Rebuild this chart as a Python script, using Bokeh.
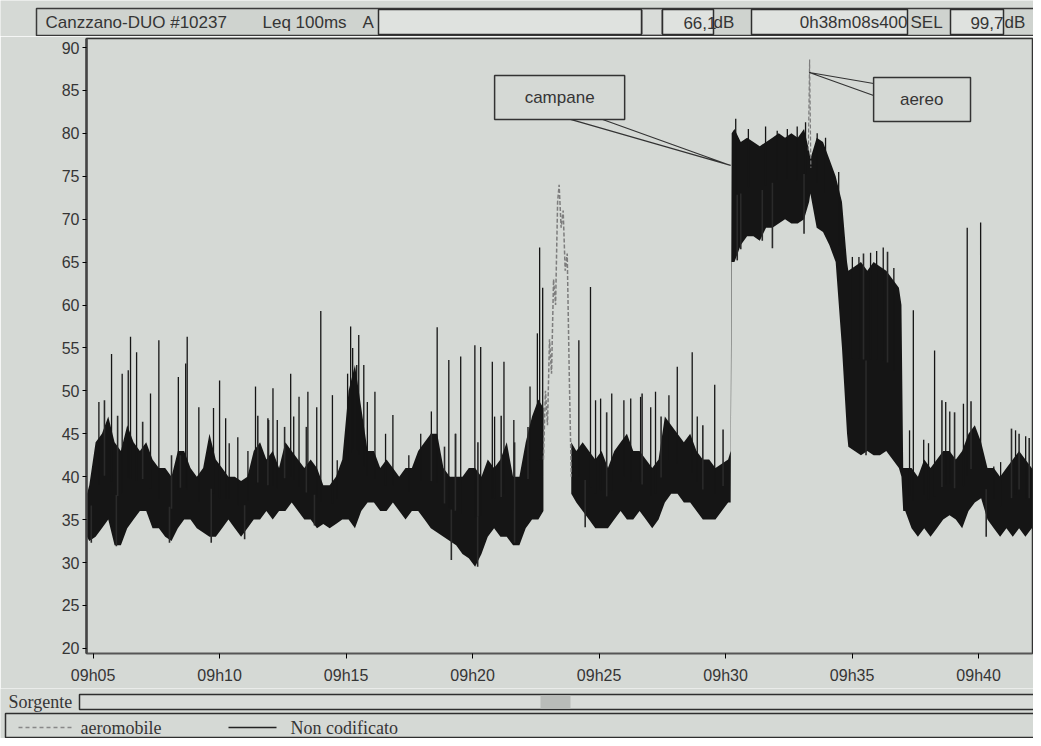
import numpy as np
from bokeh.plotting import figure
from bokeh.models import Range1d, FixedTicker
from bokeh.layouts import column
from bokeh.embed import file_html
from bokeh.resources import INLINE
from bokeh.core.properties import value

# ---------------- data (minutes after 09:00, dB) ----------------
nan = float("nan")
band_t = [4.76, 4.85, 5.1, 5.35, 5.6, 5.85, 6.1, 6.35, 6.6, 6.85, 7.1, 7.35, 7.6, 7.85, 8.1, 8.35,
          8.6, 8.85, 9.1, 9.35, 9.6, 9.85, 10.1, 10.35, 10.6, 10.85, 11.1, 11.35, 11.6, 11.85,
          12.1, 12.35, 12.6, 12.85, 13.1, 13.35, 13.6, 13.85, 14.1, 14.35, 14.6, 14.85, 15.1,
          15.35, 15.6, 15.85, 16.1, 16.35, 16.6, 16.85, 17.1, 17.35, 17.6, 17.85, 18.1, 18.35,
          18.6, 18.85, 19.1, 19.35, 19.6, 19.85, 20.1, 20.35, 20.6, 20.85, 21.1, 21.35, 21.6,
          21.85, 22.1, 22.35, 22.6, 22.8, 23.35, 23.9, 24.1, 24.35, 24.6, 24.85, 25.1, 25.35,
          25.6, 25.85, 26.1, 26.35, 26.6, 26.85, 27.1, 27.35, 27.6, 27.85, 28.1, 28.35, 28.6,
          28.85, 29.1, 29.35, 29.6, 29.85, 30.1, 30.2, 30.24, 30.35, 30.6, 30.85, 31.1, 31.35,
          31.6, 31.85, 32.1, 32.35, 32.6, 32.85, 33.1, 33.3, 33.35, 33.6, 33.85, 34.1, 34.35,
          34.6, 34.8, 34.85, 35.1, 35.35, 35.6, 35.85, 36.1, 36.35, 36.6, 36.85, 36.95, 37.02,
          37.1, 37.35, 37.6, 37.85, 38.1, 38.35, 38.6, 38.85, 39.1, 39.35, 39.6, 39.85, 40.1,
          40.35, 40.6, 40.85, 41.1, 41.35, 41.6, 41.85, 42.1, 42.35]
band_lo = [33, 32.5, 33, 34, 35, 32, 32, 34, 35, 36, 36, 34, 34, 33, 32.5, 34,
           35, 35, 34, 33.5, 33, 33, 34, 35, 34, 33, 34, 35, 35, 36,
           35, 36, 36, 37, 36, 35, 35, 34, 34.5, 34, 34.5, 35, 35,
           34, 36, 37, 37, 36, 36, 37, 36, 35, 36, 36, 35, 34,
           33.5, 33, 32.5, 32, 31, 30.5, 29.5, 31, 33, 34, 33, 33, 32,
           32, 34, 35, 35, 36, nan, 38, 37, 36, 35, 34, 34, 34,
           35, 36, 35, 35, 36, 35, 34, 35, 37, 38, 38, 37, 37,
           36, 35, 35, 35, 36, 37, 37, 65, 65, 67, 68, 68, 67.5,
           69, 69, 69.5, 70, 69.5, 69.5, 70, 72, 73, 69, 68.5, 67, 65,
           55, 45, 43.5, 43, 42.5, 43, 42.5, 42.5, 43, 42, 41, 40, 36,
           36, 34, 33, 34, 33, 34, 35, 35.5, 35, 34, 36, 37, 37.5,
           35, 34, 33, 34, 33, 34, 33, 34, 33]
band_hi = [38, 39, 44, 45, 47, 44, 43, 46, 44, 43, 44, 42, 41, 41, 40, 43,
           43, 41, 40, 41, 45, 42, 41, 40, 40, 39.5, 40, 43, 44, 42,
           43, 41, 44, 43, 42, 41, 42, 41, 39, 39, 40, 42, 50,
           53, 48, 43, 43, 41, 42, 41, 40, 41, 41, 43, 44, 45,
           45, 41, 40, 40, 40, 41, 41, 40, 42, 41, 42, 44, 40,
           40, 44, 47, 49, 48, nan, 44, 43, 44, 43, 42, 43, 41,
           43, 44, 45, 43, 43, 42, 41, 42, 47, 46, 45, 44, 45,
           43, 42, 42, 41, 41.5, 42, 43, 80, 80.5, 79, 79.5, 79, 78.5,
           79, 79.5, 80, 79.5, 80, 79.5, 80.5, 78, 77, 79.5, 79, 77, 75,
           72, 65, 64, 64.5, 65, 64, 65, 64.5, 64, 63, 62, 60, 41,
           41, 41, 40, 42, 41, 42, 43, 43, 42, 43, 45, 46, 44,
           41, 41, 40, 41, 42, 43, 42, 41, 40]

# tall isolated peaks
spike_t = [5.23, 5.73, 6.15, 6.39, 6.48, 6.72, 7.27, 7.6, 8.37, 8.66,
           8.72, 9.18, 9.76, 10.0, 10.24, 10.38, 10.72, 11.12, 11.42, 11.94,
           12.11, 12.28, 12.81, 12.93, 13.14, 13.49, 13.84, 14.0, 14.46, 14.65,
           15.06, 15.18, 15.26, 15.42, 15.5, 15.7, 15.84, 16.14, 16.56, 16.85,
           17.48, 17.95, 18.37, 18.6, 19.06, 19.33, 19.53, 20.09, 20.32, 20.78,
           20.87, 21.24, 21.63, 22.27, 22.56, 22.65, 22.77, 24.2, 24.66, 24.86,
           25.06, 25.5, 25.98, 26.25, 26.64, 27.04, 27.23, 27.76, 28.09, 28.68,
           28.88, 29.57, 30.4, 30.9, 31.58, 32.04, 32.44, 32.83, 33.16, 33.62,
           33.95, 34.47, 35.01, 35.27, 35.73, 35.97, 36.23, 36.65, 37.27, 37.42,
           37.83, 38.02, 38.26, 38.7, 38.86, 39.4, 39.55, 40.08, 40.6, 40.87,
           41.46, 41.86]
spike_db = [48.7, 54.3, 52, 52.4, 56.3, 54.5, 49.7, 55.9, 51.6, 53.2,
            56.3, 48.1, 48, 51.2, 46.8, 43.9, 44.6, 43, 50.5, 46.6,
            50.3, 46.6, 52, 47, 49.3, 49.9, 48.1, 59.3, 49.5, 41.9,
            52, 57.5, 55, 53, 56.5, 53, 48.7, 49.9, 45, 47.2,
            42.5, 45, 47.6, 57.4, 53.6, 45, 54, 55.3, 55.1, 53.4,
            47, 53.4, 46.6, 50.5, 56.7, 66.7, 62, 55.9, 62.1, 48.9,
            49.1, 49.7, 48.9, 49.1, 49.3, 48.1, 49.9, 49.5, 52.8, 54.5,
            47, 50.7, 81.7, 80.5, 80.8, 80.3, 80.5, 80.8, 81.3, 80,
            79.5, 75.5, 65.6, 65.6, 66.1, 66.3, 66.7, 64.3, 45.4, 59.4,
            44.3, 43.9, 54.7, 48.7, 47.6, 48.5, 69, 69.6, 41.2, 41.7,
            45.4, 44.7]
# smaller excursions above and below the band
fringe_t = [4.93, 5.45, 5.92, 5.97, 6.96, 8.02, 8.1, 8.45, 9.67, 10.99,
            11.51, 11.91, 12.57, 13.43, 13.75, 18.37, 18.89, 19.16, 19.32, 20.2,
            20.21, 21.13, 21.66, 21.66, 22.19, 24.45, 25.3, 26.7, 27.45, 29.1,
            29.9, 30.46, 30.6, 31.45, 31.85, 33.1, 35.45, 35.55, 36.4, 38.55,
            39.05, 39.7, 40.3, 41.3, 41.6, 42.0]
fringe_db = [32.3, 48.9, 31.9, 47.1, 46.4, 32.3, 42.5, 42.5, 32.3, 32.7,
             47.1, 46.8, 45.8, 45.8, 34.3, 45, 43.5, 30.3, 45, 29.5,
             44, 47.1, 44, 32.3, 45.8, 34.1, 47.5, 49.7, 47, 46,
             45.5, 65.2, 66.5, 67.5, 66.6, 68.3, 66, 42.5, 66.2, 48.9,
             47.5, 48.8, 33, 45.6, 45, 44.5]

aero_t = [22.80, 22.88, 22.96, 23.04, 23.12, 23.20, 23.28, 23.36, 23.42, 23.50,
          23.58, 23.66, 23.74, 23.82, 23.90]
aero_db = [42, 50, 46, 56, 52, 63, 60, 72, 74, 69, 71, 64, 66, 52, 40]
aero2_t = [33.27, 33.32, 33.37]
aero2_db = [78, 88.6, 76]

y_ticks = [20, 25, 30, 35, 40, 45, 50, 55, 60, 65, 70, 75, 80, 85, 90]
x_ticks = [5, 10, 15, 20, 25, 30, 35, 40]
x_labels = ["09h05", "09h10", "09h15", "09h20", "09h25", "09h30", "09h35", "09h40"]

# ---------------- style ----------------
BG = "#d5d9d5"
INK = "#151515"
TXT = "#353535"
SANS = "Liberation Sans"
SERIF = "Liberation Serif"
W = 1033

# ---------------- main chart ----------------
p = figure(width=W, height=652, title=None,
           x_range=Range1d(4.74, 42.13), y_range=Range1d(19.4, 91.05),
           output_backend="svg", toolbar_location=None,
           min_border_left=86, min_border_right=1, min_border_top=2, min_border_bottom=35,
           background_fill_color=BG, border_fill_color=BG)
p.frame_align = False
p.grid.visible = False
p.outline_line_color = "#333333"
p.outline_line_width = 1.5

p.yaxis.ticker = FixedTicker(ticks=y_ticks)
p.yaxis.axis_line_width = 2.5
p.yaxis.axis_line_color = "#444444"
p.yaxis.major_tick_in = 0
p.yaxis.major_tick_out = 4
p.yaxis.minor_tick_line_color = None
p.yaxis.major_label_standoff = 3
p.yaxis.major_label_text_font = SANS
p.yaxis.major_label_text_font_size = "16px"
p.yaxis.major_label_text_color = TXT

p.xaxis.ticker = FixedTicker(ticks=x_ticks)
p.xaxis.major_label_overrides = {t: l for t, l in zip(x_ticks, x_labels)}
p.xaxis.axis_line_color = "#555555"
p.xaxis.axis_line_width = 1.5
p.xaxis.major_tick_in = 0
p.xaxis.major_tick_out = 5
p.xaxis.minor_tick_line_color = None
p.xaxis.major_label_standoff = 8
p.xaxis.major_label_text_font = SANS
p.xaxis.major_label_text_font_size = "16px"
p.xaxis.major_label_text_color = TXT

bt = np.array(band_t)
lo = np.array(band_lo, dtype=float)
hi = np.array(band_hi, dtype=float)
valid = ~np.isnan(lo)
segs, cur = [], []
for i in range(len(bt)):
    if valid[i]:
        cur.append(i)
    elif cur:
        segs.append(cur)
        cur = []
if cur:
    segs.append(cur)
for s in segs:
    p.varea(x=bt[s], y1=lo[s], y2=hi[s], fill_color=INK)

mid = (lo + hi) / 2
base = np.interp(spike_t, bt[valid], mid[valid])
p.segment(x0=spike_t, y0=base, x1=spike_t, y1=spike_db, line_color=INK, line_width=1.3)
fbase = np.interp(fringe_t, bt[valid], mid[valid])
p.segment(x0=fringe_t, y0=fbase, x1=fringe_t, y1=fringe_db, line_color="#2a2a2a",
          line_width=1.6)

p.line(aero_t, aero_db, line_color="#7d7d7d", line_width=1.5, line_dash="4 2")
p.line(aero2_t, aero2_db, line_color="#7d7d7d", line_width=1.2, line_dash="4 2")

# callouts
p.patch([23.87, 30.2, 25.14], [81.62, 76.26, 81.62], fill_alpha=0,
        line_color="#333333", line_width=1.2)
p.quad(left=[20.87], right=[26.01], top=[86.74], bottom=[81.62], fill_color=BG,
       line_color="#333333", line_width=1.5)
p.text(x=[23.44], y=[84.18], text=["campane"], text_font=value(SANS), text_font_size="17px",
       text_align="center", text_baseline="middle", text_color=TXT)

p.patch([35.85, 33.31, 35.85], [85.81, 87.09, 84.41], fill_alpha=0,
        line_color="#333333", line_width=1.2)
p.quad(left=[35.85], right=[39.68], top=[86.51], bottom=[81.39], fill_color=BG,
       line_color="#333333", line_width=1.5)
p.text(x=[37.75], y=[83.95], text=["aereo"], text_font=value(SANS), text_font_size="17px",
       text_align="center", text_baseline="middle", text_color=TXT)

# ---------------- header strip ----------------
h = figure(width=W, height=36, x_range=Range1d(0, W), y_range=Range1d(36, 0),
           output_backend="svg", toolbar_location=None, min_border=0,
           x_axis_location=None, y_axis_location=None,
           background_fill_color=BG, border_fill_color=BG)
h.frame_align = False
h.grid.visible = False
h.outline_line_color = None
h.quad(left=[36], right=[1036], top=[8], bottom=[35], fill_color="#cfd3cf",
       line_color="#3a3a3a", line_width=1.5)
h.quad(left=[642], right=[661], top=[9], bottom=[34], fill_color="#d9dcd9",
       line_color="#9a9a9a", line_width=1)
h.quad(left=[378, 662, 751, 950], right=[641, 713, 907, 1003], top=[9] * 4,
       bottom=[34] * 4, fill_color="#dfe2df", line_color="#2e2e2e", line_width=1.5)
hdr_x = [45, 262, 362, 716, 713, 907, 910, 1003, 1004]
hdr_txt = ["Canzzano-DUO #10237", "Leq 100ms", "A", "66,1", "dB", "0h38m08s400", "SEL",
           "99,7", "dB"]
hdr_align = ["left", "left", "left", "right", "left", "right", "left", "right", "left"]
h.text(x=hdr_x, y=[22] * len(hdr_x), text=hdr_txt, text_align=hdr_align,
       text_font=value(SANS), text_font_size="17px", text_baseline="middle",
       text_color=TXT)

# ---------------- footer strip ----------------
f = figure(width=W, height=50, x_range=Range1d(0, W), y_range=Range1d(738, 688),
           output_backend="svg", toolbar_location=None, min_border=0,
           x_axis_location=None, y_axis_location=None,
           background_fill_color=BG, border_fill_color=BG)
f.frame_align = False
f.grid.visible = False
f.outline_line_color = None
f.text(x=[8], y=[701], text=["Sorgente"], text_font=value(SERIF), text_font_size="18px",
       text_baseline="middle", text_color=TXT)
f.quad(left=[79], right=[1040], top=[694], bottom=[709], fill_color="#d9dcd9",
       line_color="#2e2e2e", line_width=1.5)
f.quad(left=[540], right=[570], top=[695], bottom=[708], fill_color="#b9bcb9",
       line_color=None)
f.quad(left=[5], right=[1040], top=[713], bottom=[737], fill_color=BG,
       line_color="#2e2e2e", line_width=1.5)
f.line([18, 72], [727, 727], line_color="#888888", line_width=1.5, line_dash="4 3")
f.line([228, 276], [727, 727], line_color="#222222", line_width=1.5)
f.text(x=[80, 290], y=[727, 727], text=["aeromobile", "Non codificato"],
       text_font=value(SERIF), text_font_size="18px", text_baseline="middle",
       text_color=TXT)

layout = column(h, p, f, spacing=0)
open("out.html", "w").write(file_html(layout, INLINE))
